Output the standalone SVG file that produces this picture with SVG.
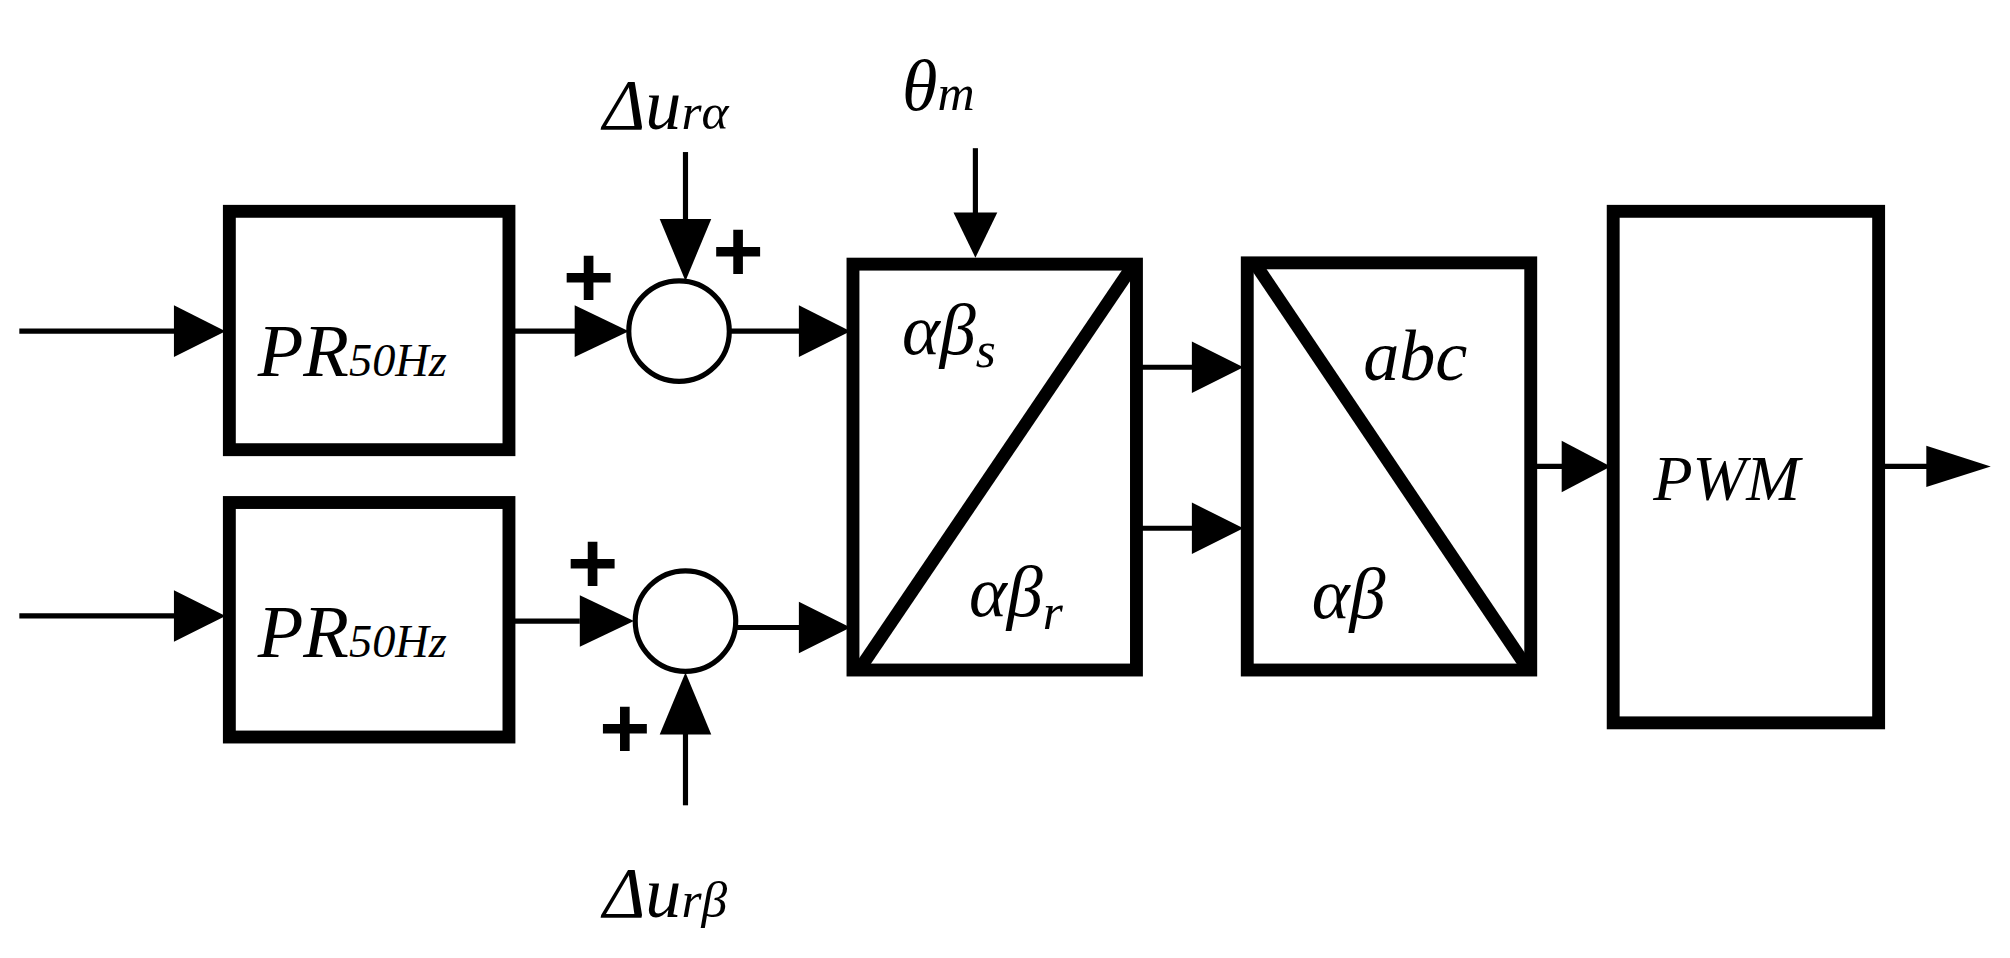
<svg xmlns="http://www.w3.org/2000/svg" width="2010" height="958" viewBox="0 0 2010 958">
<style>
.b{fill:none;stroke:#000;stroke-width:10}
.l{stroke:#000;stroke-width:4;fill:none}
.h{fill:#000}
.c{fill:#fff;stroke:#000;stroke-width:4}
.t{font-family:"Liberation Serif",serif;font-style:italic;fill:#000}
.p{font-family:"Liberation Sans",sans-serif;font-weight:bold;fill:#000;font-size:68px}
</style>
<rect width="2010" height="958" fill="#fff"/>
<g transform="scale(1.2885)">
<g id="connectors">
<line class="l" x1="15" y1="257" x2="140" y2="257"/><polygon class="h" points="135,237 175,257 135,277"/>
<line class="l" x1="15" y1="478" x2="140" y2="478"/><polygon class="h" points="135,458 175,478 135,498"/>
<line class="l" x1="395" y1="257" x2="450" y2="257"/><polygon class="h" points="446,237 488,257 446,277"/>
<line class="l" x1="395" y1="482" x2="450" y2="482"/><polygon class="h" points="450,462 492,482 450,502"/>
<line class="l" x1="532" y1="118" x2="532" y2="175"/><polygon class="h" points="512,170 532,218 552,170"/>
<line class="l" x1="532" y1="625" x2="532" y2="560"/><polygon class="h" points="512,570 532,522 552,570"/>
<line class="l" x1="567" y1="257" x2="625" y2="257"/><polygon class="h" points="620,237 660,257 620,277"/>
<line class="l" x1="572" y1="487" x2="625" y2="487"/><polygon class="h" points="620,467 660,487 620,507"/>
<line class="l" x1="757" y1="115" x2="757" y2="170"/><polygon class="h" points="740,165 757,200 774,165"/>
<line class="l" x1="882" y1="285" x2="930" y2="285"/><polygon class="h" points="925,265 965,285 925,305"/>
<line class="l" x1="882" y1="410" x2="930" y2="410"/><polygon class="h" points="925,390 965,410 925,430"/>
<line class="l" x1="1188" y1="362" x2="1215" y2="362"/><polygon class="h" points="1212,342 1250,362 1212,382"/>
<line class="l" x1="1458" y1="362" x2="1500" y2="362"/><polygon class="h" points="1495,346 1545,362 1495,378"/>
</g>
<g id="pr1"><rect class="b" x="178" y="164" width="217" height="185"/><text class="t" x="200" y="292" font-size="58">PR<tspan font-size="36">50Hz</tspan></text></g>
<g id="pr2"><rect class="b" x="178" y="390" width="217" height="182"/><text class="t" x="200" y="510" font-size="58">PR<tspan font-size="36">50Hz</tspan></text></g>
<g id="sum1"><circle class="c" cx="527" cy="257" r="39"/><text class="p" x="437" y="238">+</text><text class="p" x="553" y="218">+</text></g>
<g id="sum2"><circle class="c" cx="532" cy="482" r="39"/><text class="p" x="440" y="460">+</text><text class="p" x="465" y="588">+</text></g>
<g id="in1"><text class="t" x="468" y="100" font-size="56">Δu<tspan font-size="40">rα</tspan></text></g>
<g id="in2"><text class="t" x="468" y="712" font-size="56">Δu<tspan font-size="40">rβ</tspan></text></g>
<g id="theta"><text class="t" x="700" y="85" font-size="56">θ<tspan font-size="40">m</tspan></text></g>
<g id="box1"><rect class="b" x="662" y="205" width="220" height="315"/><line class="b" x1="880" y1="205" x2="668" y2="518"/><text class="t" x="700" y="275" font-size="56">αβ<tspan font-size="40" dy="10">s</tspan></text><text class="t" x="752" y="478" font-size="56">αβ<tspan font-size="40" dy="10">r</tspan></text></g>
<g id="box2"><rect class="b" x="968" y="204" width="220" height="316"/><line class="b" x1="975" y1="206" x2="1185" y2="518"/><text class="t" x="1058" y="295" font-size="56">abc</text><text class="t" x="1018" y="480" font-size="56">αβ</text></g>
<g id="pwm"><rect class="b" x="1252" y="164" width="206" height="397"/><text class="t" x="1283" y="388" font-size="50">PWM</text></g>
</g>
</svg>
